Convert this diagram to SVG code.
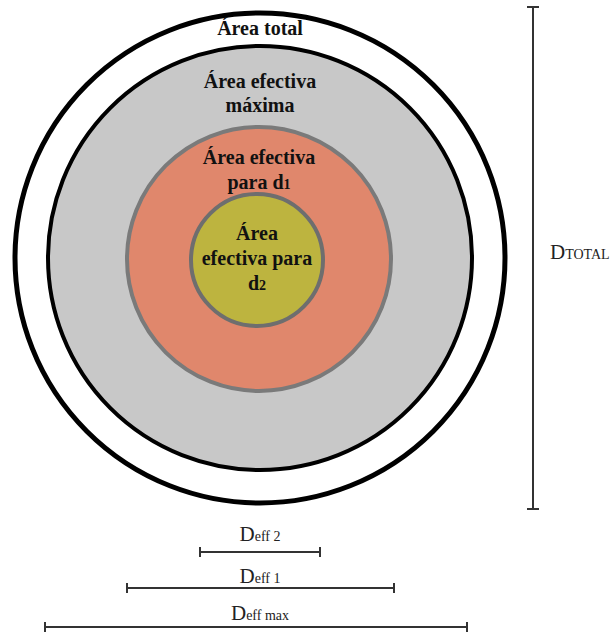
<svg xmlns="http://www.w3.org/2000/svg" width="616" height="634" viewBox="0 0 616 634">
<style>
.t{font-family:'Times New Roman','Liberation Serif',Tinos,serif;font-weight:bold;font-size:20px;fill:#111;text-anchor:middle}
.d{font-family:'Times New Roman','Liberation Serif',Tinos,serif;fill:#222}
.ln{stroke:#333;stroke-width:2;fill:none}
</style>
<rect width="616" height="634" fill="#fff"/>
<g id="area-total">
<circle cx="260" cy="258" r="245" fill="#fff" stroke="#000" stroke-width="5"/>
<text class="t" x="260" y="35" font-size="19">Área total</text>
</g>
<g id="area-max">
<circle cx="260" cy="258" r="212" fill="#c8c8c8" stroke="#000" stroke-width="4"/>
<text class="t" x="260" y="88">Área efectiva</text>
<text class="t" x="260" y="112">máxima</text>
</g>
<g id="area-d1">
<circle cx="259" cy="259" r="132" fill="#e0876c" stroke="#7a7a7a" stroke-width="4"/>
<text class="t" x="259" y="164">Área efectiva</text>
<text class="t" x="259" y="189">para d<tspan font-size="14">1</tspan></text>
</g>
<g id="area-d2">
<circle cx="257" cy="260" r="66" fill="#bdb43f" stroke="#6e6e6e" stroke-width="4"/>
<text class="t" x="257" y="240">Área</text>
<text class="t" x="257" y="265">efectiva para</text>
<text class="t" x="257" y="290">d<tspan font-size="14">2</tspan></text>
</g>
<g id="connectors">
<path class="ln" d="M533 7V509M527 7H539M527 509H539"/>
<path class="ln" d="M200 552H320M200 547V557M320 547V557"/>
<path class="ln" d="M127 588H394M127 583V593M394 583V593"/>
<path class="ln" d="M45 627H467M45 622V632M467 622V632"/>
</g>
<g id="labels">
<text class="d" x="550" y="259" font-size="21">D<tspan font-size="14">TOTAL</tspan></text>
<text class="d" x="260" y="541" font-size="21" text-anchor="middle">D<tspan font-size="14">eff 2</tspan></text>
<text class="d" x="260" y="583" font-size="21" text-anchor="middle">D<tspan font-size="14">eff 1</tspan></text>
<text class="d" x="260" y="620" font-size="21" text-anchor="middle">D<tspan font-size="14">eff max</tspan></text>
</g>
</svg>
